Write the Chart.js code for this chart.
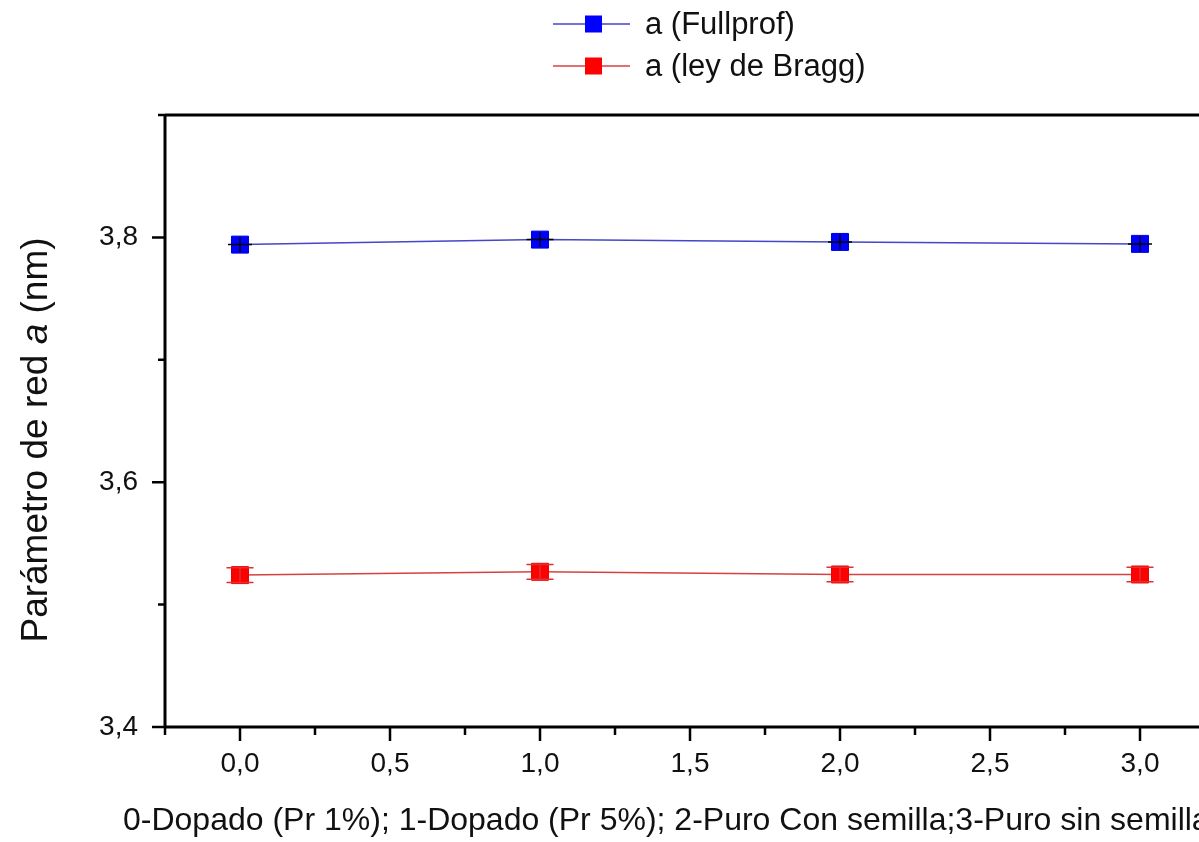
<!DOCTYPE html>
<html>
<head>
<meta charset="utf-8">
<script src="https://cdn.jsdelivr.net/npm/chart.js@4.4.0/dist/chart.umd.min.js"></script>
<style>
html,body{margin:0;padding:0;background:#fff;overflow:hidden;width:1199px;height:842px;}
#wrap{position:absolute;left:0;top:0;width:1260px;height:842px;}
</style>
</head>
<body>
<div id="wrap"><canvas id="c" width="1260" height="842"></canvas></div>
<script>
// ---- data ----
const categories = [0, 1, 2, 3];
const fullprofValues = [3.7941, 3.7982, 3.7963, 3.7947];
const braggValues = [3.5241, 3.5268, 3.5246, 3.5246];
const fullprofXErr = [0.04, 0.045, 0.04, 0.04];
const fullprofYErr = [0.006, 0.006, 0.006, 0.006];
const braggYErr = [0.006, 0.006, 0.006, 0.006];
const xMajorTicks = [0, 0.5, 1, 1.5, 2, 2.5, 3];
const xMinorTicks = [-0.25, 0.25, 0.75, 1.25, 1.75, 2.25, 2.75, 3.25];
const yMajorTicks = [3.4, 3.6, 3.8];
const yMinorTicks = [3.5, 3.7, 3.9];
const seriesNames = ['a (Fullprof)', 'a (ley de Bragg)'];
const xTitle = '0-Dopado (Pr 1%); 1-Dopado (Pr 5%); 2-Puro Con semilla;3-Puro sin semilla';

const FONT = '"Liberation Sans", Arial, sans-serif';
const fmt = v => v.toFixed(1).replace('.', ',');

const decorPlugin = {
  id: 'decor',
  afterDatasetsDraw(chart) {
    const ctx = chart.ctx;
    const xs = chart.scales.x, ys = chart.scales.y;
    ctx.save();
    // error bars fullprof (black cross)
    ctx.strokeStyle = '#000';
    ctx.lineWidth = 1.5;
    categories.forEach((c, i) => {
      const px = xs.getPixelForValue(c), py = ys.getPixelForValue(fullprofValues[i]);
      const x0 = xs.getPixelForValue(c - fullprofXErr[i]), x1 = xs.getPixelForValue(c + fullprofXErr[i]);
      const y0 = ys.getPixelForValue(fullprofValues[i] - fullprofYErr[i]), y1 = ys.getPixelForValue(fullprofValues[i] + fullprofYErr[i]);
      ctx.beginPath();
      ctx.moveTo(x0, py); ctx.lineTo(x1, py);
      ctx.moveTo(px, y0); ctx.lineTo(px, y1);
      ctx.stroke();
    });
    // error bars bragg (red caps)
    ctx.strokeStyle = '#e03030';
    ctx.lineWidth = 1.5;
    categories.forEach((c, i) => {
      const px = xs.getPixelForValue(c);
      const y0 = ys.getPixelForValue(braggValues[i] - braggYErr[i]), y1 = ys.getPixelForValue(braggValues[i] + braggYErr[i]);
      ctx.beginPath();
      ctx.moveTo(px, y0); ctx.lineTo(px, y1);
      ctx.moveTo(px - 13.5, y0); ctx.lineTo(px + 13.5, y0);
      ctx.moveTo(px - 13.5, y1); ctx.lineTo(px + 13.5, y1);
      ctx.stroke();
    });
    ctx.restore();
  },
  afterDraw(chart) {
    const ctx = chart.ctx;
    const xs = chart.scales.x, ys = chart.scales.y;
    const a = chart.chartArea;
    ctx.save();
    ctx.strokeStyle = '#000';
    ctx.lineWidth = 3;
    ctx.lineCap = 'butt';
    // frame: left, bottom, top
    ctx.beginPath();
    ctx.moveTo(a.left, a.top); ctx.lineTo(a.left, a.bottom);
    ctx.moveTo(a.left, a.bottom); ctx.lineTo(a.right, a.bottom);
    ctx.moveTo(a.left, a.top); ctx.lineTo(a.right, a.top);
    ctx.stroke();
    ctx.lineWidth = 2.5;
    ctx.beginPath();
    xMajorTicks.forEach(v => { const p = xs.getPixelForValue(v); ctx.moveTo(p, a.bottom); ctx.lineTo(p, a.bottom + 14); });
    xMinorTicks.forEach(v => { const p = xs.getPixelForValue(v); ctx.moveTo(p, a.bottom); ctx.lineTo(p, a.bottom + 8); });
    yMajorTicks.forEach(v => { const p = ys.getPixelForValue(v); ctx.moveTo(a.left, p); ctx.lineTo(a.left - 13, p); });
    yMinorTicks.forEach(v => { const p = ys.getPixelForValue(v); ctx.moveTo(a.left, p); ctx.lineTo(a.left - 7, p); });
    ctx.stroke();

    // x title
    ctx.fillStyle = '#111';
    ctx.font = '32px ' + FONT;
    ctx.textAlign = 'left';
    ctx.textBaseline = 'alphabetic';
    ctx.fillText(xTitle, 123, 830);

    // y title (rotated, with italic a)
    ctx.save();
    ctx.translate(47, 440);
    ctx.rotate(-Math.PI / 2);
    const parts = [['Parámetro de red ', ''], ['a', 'italic '], [' (nm)', '']];
    let total = 0;
    parts.forEach(p => { ctx.font = p[1] + '37px ' + FONT; total += ctx.measureText(p[0]).width; });
    let x = -total / 2;
    parts.forEach(p => { ctx.font = p[1] + '37px ' + FONT; ctx.fillText(p[0], x, 0); x += ctx.measureText(p[0]).width; });
    ctx.restore();

    // legend
    const items = [
      { name: seriesNames[0], line: '#4646c8', fill: '#0000ff', y: 24 },
      { name: seriesNames[1], line: '#d84040', fill: '#ff0000', y: 66 }
    ];
    items.forEach(it => {
      ctx.strokeStyle = it.line;
      ctx.lineWidth = 1.5;
      ctx.beginPath();
      ctx.moveTo(553, it.y); ctx.lineTo(630, it.y);
      ctx.stroke();
      ctx.fillStyle = it.fill;
      ctx.fillRect(585, it.y - 8.5, 17, 17);
      ctx.fillStyle = '#111';
      ctx.font = '31px ' + FONT;
      ctx.textBaseline = 'middle';
      ctx.fillText(it.name, 645, it.y + 1);
    });
    ctx.restore();
  }
};

new Chart(document.getElementById('c'), {
  type: 'scatter',
  data: {
    datasets: [
      {
        label: seriesNames[0],
        data: categories.map((c, i) => ({ x: c, y: fullprofValues[i] })),
        showLine: true,
        borderColor: '#4646c8',
        borderWidth: 1.5,
        backgroundColor: '#0000ff',
        pointStyle: 'rect',
        pointRadius: 12,
        pointBorderColor: '#0000e0',
        pointBorderWidth: 1,
        pointHoverRadius: 12
      },
      {
        label: seriesNames[1],
        data: categories.map((c, i) => ({ x: c, y: braggValues[i] })),
        showLine: true,
        borderColor: '#d84040',
        borderWidth: 1.5,
        backgroundColor: '#ff0000',
        pointStyle: 'rect',
        pointRadius: 12,
        pointBorderColor: '#f00000',
        pointBorderWidth: 1,
        pointHoverRadius: 12
      }
    ]
  },
  options: {
    responsive: false,
    animation: false,
    devicePixelRatio: 1,
    layout: { padding: { top: 115, left: 0, right: 45, bottom: 0 } },
    plugins: { legend: { display: false }, tooltip: { enabled: false } },
    scales: {
      x: {
        type: 'linear',
        min: -0.25, max: 3.25,
        afterBuildTicks: s => { s.ticks = xMajorTicks.map(v => ({ value: v })); },
        afterFit: s => { s.height = 115; },
        grid: { display: false, drawTicks: false, tickLength: 0 },
        border: { display: false },
        ticks: { color: '#111', font: { family: FONT, size: 28 }, padding: 20, maxRotation: 0, autoSkip: false, callback: v => fmt(v) }
      },
      y: {
        min: 3.4, max: 3.9,
        afterBuildTicks: s => { s.ticks = yMajorTicks.map(v => ({ value: v })); },
        afterFit: s => { s.width = 165; },
        grid: { display: false, drawTicks: false, tickLength: 0 },
        border: { display: false },
        ticks: { color: '#111', font: { family: FONT, size: 28 }, padding: 27, autoSkip: false, callback: v => fmt(v) }
      }
    }
  },
  plugins: [decorPlugin]
});
</script>
</body>
</html>
